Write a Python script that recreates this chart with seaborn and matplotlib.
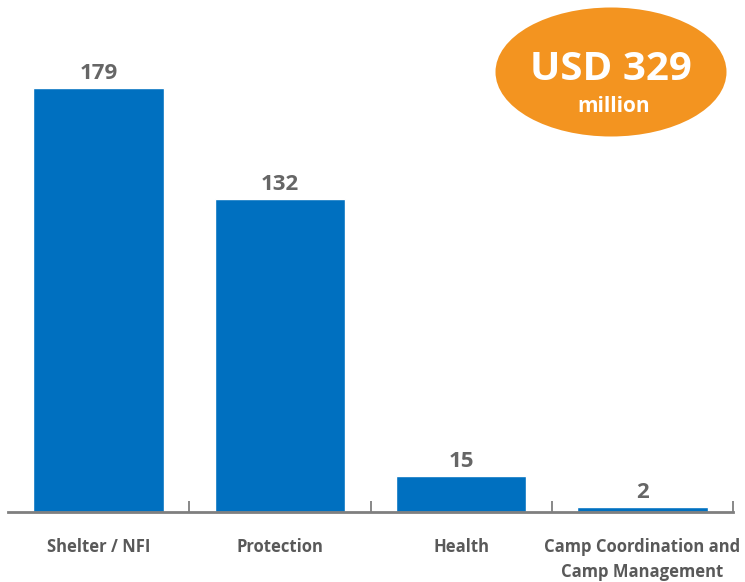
import numpy as np
import pandas as pd
import seaborn as sns
import matplotlib.pyplot as plt
from matplotlib.patches import Ellipse

categories = ['Shelter / NFI', 'Protection', 'Health', 'Camp Coordination and\nCamp Management']
values = [179, 132, 15, 2]
total_label = 'USD 329'
total_unit = 'million'

sns.set_style('white')
plt.rcParams['font.family'] = ['Open Sans', 'DejaVu Sans']

df = pd.DataFrame({'cluster': categories, 'usd': values})

fig = plt.figure(figsize=(7.45, 5.82), dpi=100)
ax = fig.add_axes([8 / 745, 70 / 582, 725 / 745, 512 / 582])

sns.barplot(data=df, x='cluster', y='usd', color='#0070C0', width=0.72,
            saturation=1, ax=ax)

ax.set_xlim(-0.5, 3.5)
ax.set_ylim(0, 216)
ax.set_xlabel('')
ax.set_ylabel('')
ax.set_yticks([])
for s in ['top', 'right', 'left']:
    ax.spines[s].set_visible(False)
ax.spines['bottom'].set_color('#7f7f7f')
ax.spines['bottom'].set_linewidth(2)

ax.set_xticks(range(len(categories)))
ax.set_xticklabels(categories, fontsize=12, fontweight='bold', color='#595959',
                   linespacing=1.45)
ax.tick_params(axis='x', which='major', length=0, pad=19)
ax.set_xticks([0.5, 1.5, 2.5, 3.5], minor=True)
ax.tick_params(axis='x', which='minor', bottom=True, direction='in', length=8,
               width=1.3, color='#7f7f7f')

for c in ax.containers:
    ax.bar_label(c, labels=[str(v) for v in values], padding=3, fontsize=16,
                 fontweight='bold', color='#666666')

ell = Ellipse((611 / 745, 1 - 72 / 582), 231 / 745, 129 / 582,
              transform=fig.transFigure, facecolor='#F39420', edgecolor='none')
fig.patches.append(ell)
fig.text(611 / 745, 1 - 70 / 582, total_label, ha='center', va='center',
         fontsize=29, fontweight='bold', color='white')
fig.text(614 / 745, 1 - 107 / 582, total_unit, ha='center', va='center',
         fontsize=15, fontweight='bold', color='white')

fig.savefig('out.png', dpi=100)
